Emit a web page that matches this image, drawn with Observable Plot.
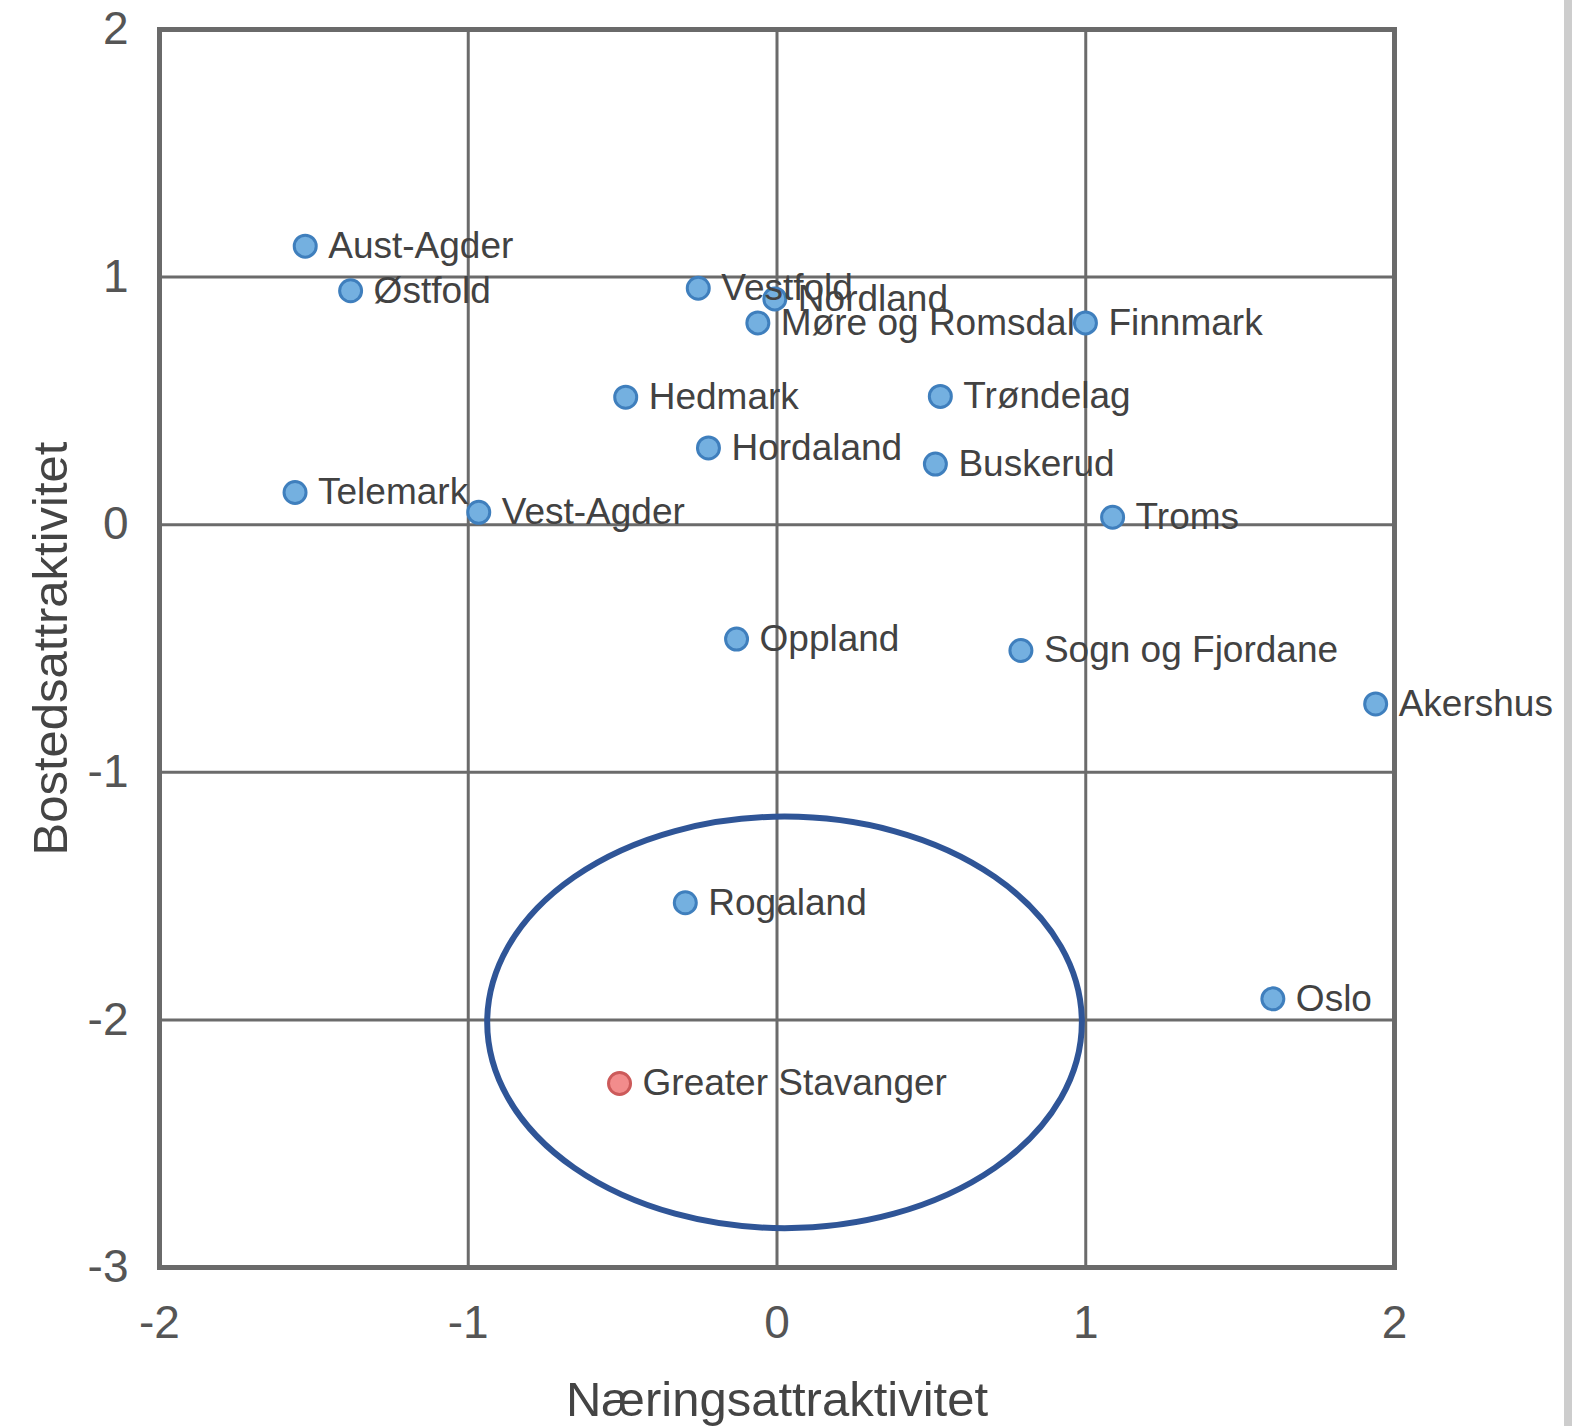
<!DOCTYPE html>
<html>
<head>
<meta charset="utf-8">
<script src="https://cdn.jsdelivr.net/npm/d3@7"></script>
<script src="https://cdn.jsdelivr.net/npm/@observablehq/plot@0.6"></script>
<style>
  html, body { margin: 0; padding: 0; background: #ffffff; }
  #wrap { position: relative; width: 1581px; height: 1426px; overflow: hidden; }
  #strip { position: absolute; left: 1564px; top: 0; width: 8px; height: 1426px; background: #cdcdcd; }
</style>
</head>
<body>
<div id="wrap"><div id="strip"></div></div>
<script>
// Regions (fylker) and their attractiveness scores
const regions = ["Aust-Agder", "Østfold", "Vestfold", "Nordland", "Møre og Romsdal", "Finnmark",
  "Hedmark", "Trøndelag", "Hordaland", "Buskerud", "Telemark", "Vest-Agder", "Troms",
  "Oppland", "Sogn og Fjordane", "Akershus", "Rogaland", "Oslo", "Greater Stavanger"];
const naering = [-1.528, -1.381, -0.255, -0.007, -0.062, 0.999,
  -0.490, 0.529, -0.222, 0.513, -1.561, -0.966, 1.087,
  -0.131, 0.790, 1.939, -0.297, 1.606, -0.510];
const bosted = [1.125, 0.945, 0.955, 0.912, 0.815, 0.815,
  0.515, 0.518, 0.310, 0.245, 0.130, 0.050, 0.030,
  -0.462, -0.508, -0.724, -1.527, -1.915, -2.257];
const kind = ["fylke", "fylke", "fylke", "fylke", "fylke", "fylke",
  "fylke", "fylke", "fylke", "fylke", "fylke", "fylke", "fylke",
  "fylke", "fylke", "fylke", "fylke", "fylke", "region"];

const xTicks = [-2, -1, 0, 1, 2];
const yTicks = [-3, -2, -1, 0, 1, 2];
const xGrid = [-1, 0, 1];
const yGrid = [-2, -1, 0, 1];
const xTitle = "Næringsattraktivitet";
const yTitle = "Bostedsattraktivitet";

// Highlight ellipse (annotation) in data units
const ellipseCenter = [0.026, -2.012];
const ellipseRadii = [0.963, 0.831];

const data = regions.map((name, i) => ({name, x: naering[i], y: bosted[i], kind: kind[i]}));

const fillColor = {fylke: "#74b0e0", region: "#f28c8c"};
const strokeColor = {fylke: "#3f7fbd", region: "#cc5a5a"};

const chart = Plot.plot({
  width: 1581,
  height: 1426,
  marginLeft: 159,
  marginRight: 187,
  marginTop: 29,
  marginBottom: 159,
  style: {fontFamily: "'Liberation Sans', Arial, sans-serif", fontSize: "46px", color: "#555555", background: "#ffffff"},
  x: {domain: [-2, 2], ticks: xTicks, tickFormat: d => String(d), tickSize: 0, tickPadding: 38, label: null},
  y: {domain: [-3, 2], ticks: yTicks, tickFormat: d => String(d), tickSize: 0, tickPadding: 31, label: null},
  marks: [
    Plot.ruleX(xGrid, {stroke: "#6b6b6b", strokeWidth: 3}),
    Plot.ruleY(yGrid, {stroke: "#6b6b6b", strokeWidth: 3}),
    Plot.frame({stroke: "#6a6a6a", strokeWidth: 5}),
    Plot.dot(data, {x: "x", y: "y", r: 11, fill: d => fillColor[d.kind], stroke: d => strokeColor[d.kind], strokeWidth: 3}),
    Plot.text(data, {x: "x", y: "y", text: "name", textAnchor: "start", dx: 23, dy: 0, fontSize: 37, fill: "#424242"}),
    Plot.text([xTitle], {frameAnchor: "bottom", textAnchor: "middle", dy: 148, text: d => d, fontSize: 49, fill: "#444444"}),
    Plot.text([yTitle], {frameAnchor: "left", textAnchor: "middle", dx: -108, rotate: -90, text: d => d, fontSize: 49, fill: "#444444"})
  ]
});

document.getElementById("wrap").appendChild(chart);

// Draw the highlight ellipse with the plot's own scales
const sx = chart.scale("x"), sy = chart.scale("y");
const fx = d3.scaleLinear().domain(sx.domain).range(sx.range);
const fy = d3.scaleLinear().domain(sy.domain).range(sy.range);
const cx = fx(ellipseCenter[0]), cy = fy(ellipseCenter[1]);
const rx = Math.abs(fx(ellipseCenter[0] + ellipseRadii[0]) - cx);
const ry = Math.abs(fy(ellipseCenter[1] + ellipseRadii[1]) - cy);
d3.select(chart).append("ellipse")
  .attr("cx", cx).attr("cy", cy).attr("rx", rx).attr("ry", ry)
  .attr("fill", "none").attr("stroke", "#2f5597").attr("stroke-width", 6);
</script>
</body>
</html>
